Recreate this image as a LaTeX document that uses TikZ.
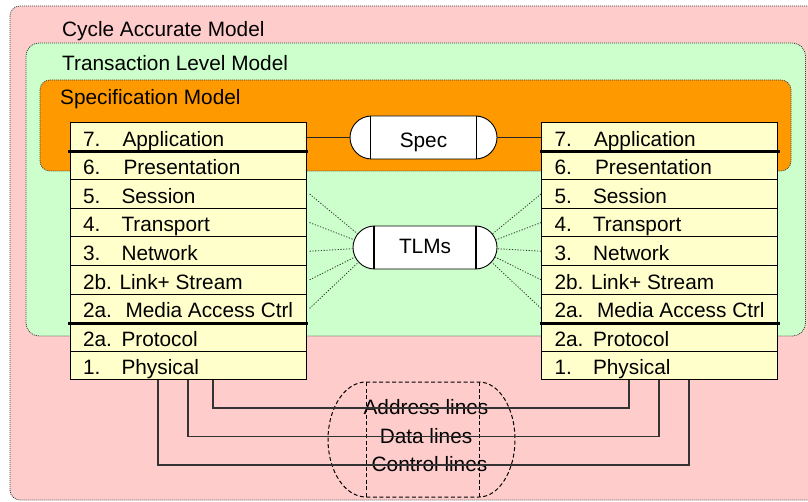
\documentclass[tikz,border=0pt]{standalone}
\usepackage{fontspec}
\setmainfont{Liberation Sans}
\usetikzlibrary{calc}

\definecolor{camfill}{HTML}{FFCCCC}
\definecolor{tlmfill}{HTML}{CCFFCC}
\definecolor{specfill}{HTML}{FF9900}
\definecolor{layerfill}{HTML}{FFFFCC}

% layer label: number, then the layer name at a fixed tab, in a fixed-width line
\newcommand\lyr[3]{\makebox[210pt][l]{\makebox[#3pt][l]{#1}#2}}

\tikzset{
  modelbox/.style={draw=black!75, line width=0.8pt, dash pattern=on 1pt off 1pt},
  modeltitle/.style={anchor=base west, inner sep=0pt},
  layer/.style={draw=black, line width=1.1pt, fill=layerfill, anchor=north west,
    minimum width=236pt, minimum height=28.59pt, inner xsep=13pt, inner ysep=0pt,
    text height=23pt, text depth=4.4pt},
  boundary/.style={line width=3pt, draw=black},
  pill/.style={draw=black, line width=0.9pt, fill=white, rounded corners=21.5pt,
    minimum height=43pt, inner sep=0pt, text height=15pt, text depth=0pt},
  capline/.style={draw=black, line width=1pt},
  fan/.style={draw=black!80, line width=0.8pt, dash pattern=on 1.2pt off 1.6pt},
  link/.style={draw=black!85, line width=1pt},
  wire/.style={draw=black!80, line width=1.2pt},
  buslabel/.style={inner sep=0pt, text height=16pt, text depth=3pt},
  bus/.style={draw=black, line width=1pt, dash pattern=on 4pt off 2.5pt},
}

\begin{document}
\begin{tikzpicture}[x=1pt, y=-1pt, font=\fontsize{20.8}{24}\selectfont]
\clip (0,0) rectangle (808,502);

% nested model levels
\draw[modelbox, fill=camfill, rounded corners=10pt] (10,6) rectangle (830,500);
\draw[modelbox, fill=tlmfill, rounded corners=13pt] (26,43) rectangle (805.5,336);
\draw[modelbox, fill=specfill, rounded corners=10pt] (40,80) rectangle (791,171);

\node[modeltitle] (camtitle) at (62,36.5) {Cycle Accurate Model};
\node[modeltitle] (tlmtitle) at (62,71) {Transaction Level Model};
\node[modeltitle] (spectitle) at (60,105) {Specification Model};

% protocol stacks
\foreach \s/\x in {L/69.5, R/541} {
  \node[layer] (\s7)  at (\x,122)     {\lyr{7.}{Application}{39.5}};
  \node[layer] (\s6)  at (\x,150.59)  {\lyr{6.}{Presentation}{40.5}};
  \node[layer] (\s5)  at (\x,179.18)  {\lyr{5.}{Session}{38.5}};
  \node[layer] (\s4)  at (\x,207.77)  {\lyr{4.}{Transport}{38.5}};
  \node[layer] (\s3)  at (\x,236.36)  {\lyr{3.}{Network}{38.5}};
  \node[layer] (\s2b) at (\x,264.95)  {\lyr{2b.}{Link+ Stream}{36.5}};
  \node[layer] (\s2m) at (\x,293.54)  {\lyr{2a.}{Media Access Ctrl}{42.5}};
  \node[layer] (\s2p) at (\x,322.13)  {\lyr{2a.}{Protocol}{38.5}};
  \node[layer] (\s1)  at (\x,350.72)  {\lyr{1.}{Physical}{38.5}};
  \draw[boundary] ([xshift=-1.5pt]\s7.south west) -- ([xshift=1.5pt]\s7.south east);
  \draw[boundary] ([xshift=-1.5pt]\s2m.south west) -- ([xshift=1.5pt]\s2m.south east);
}

% specification channel
\node[pill, minimum width=147pt, text height=21pt] (spec) at (423.5,137.5) {Spec};
\draw[capline] ([xshift=21pt]spec.north west) -- ([xshift=21pt]spec.south west);
\draw[capline] ([xshift=-21pt]spec.north east) -- ([xshift=-21pt]spec.south east);
\draw[link] (L7.east |- spec.west) -- (spec.west);
\draw[link] (spec.east) -- (R7.west |- spec.east);

% transaction level channels
\node[pill, minimum width=144pt, text height=13pt] (tlm) at (425,247.5) {TLMs};
\draw[capline, line width=2pt] ([xshift=21pt]tlm.north west) -- ([xshift=21pt]tlm.south west);
\draw[capline, line width=2pt] ([xshift=-21pt]tlm.north east) -- ([xshift=-21pt]tlm.south east);
\coordinate (tlmL) at ([xshift=21.5pt]tlm.west);
\coordinate (tlmR) at ([xshift=-21.5pt]tlm.east);
\foreach \r in {5,4,3,2b,2m} {
  \draw[fan] ([xshift=3pt]L\r.east) -- ($(tlmL)!21.5pt!([xshift=3pt]L\r.east)$);
  \draw[fan] (R\r.west) -- ($(tlmR)!21.5pt!(R\r.west)$);
}

% physical bus
\draw[bus] (366,382) -- (479,382)
  arc[start angle=90, end angle=-90, x radius=36pt, y radius=57.5pt]
  -- (366,497)
  arc[start angle=-90, end angle=-270, x radius=38pt, y radius=57.5pt] -- cycle;
\draw[bus] (366,382) -- (366,497);
\draw[bus] (479,382) -- (479,497);

\node[buslabel] (addr) at (426,408)   {Address lines};
\node[buslabel] (data) at (426,436.5) {Data lines};
\node[buslabel] (ctrl) at (429.5,465) {Control lines};

\draw[wire] ([xshift=143.5pt]L1.south west) |- (addr.center) -| ([xshift=88pt]R1.south west);
\draw[wire] ([xshift=118.5pt]L1.south west) |- (data.center) -| ([xshift=118pt]R1.south west);
\draw[wire] ([xshift=88.5pt]L1.south west) |- (ctrl.center) -| ([xshift=148pt]R1.south west);
\end{tikzpicture}
\end{document}
